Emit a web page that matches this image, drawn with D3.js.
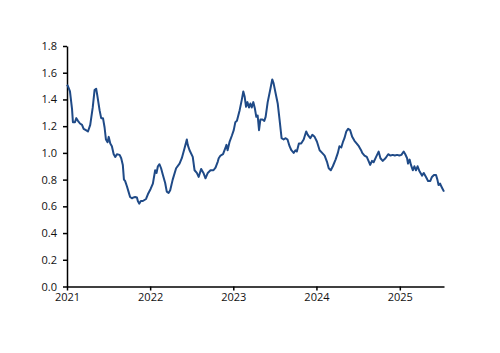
<!DOCTYPE html>
<html>
<head>
<meta charset="utf-8">
<script src="https://cdn.jsdelivr.net/npm/d3@7"></script>
<style>
  body { margin: 0; background: #fff; }
  text { font-family: "Open Sans", sans-serif; }
</style>
</head>
<body>
<div id="chart"></div>
<script>
// data
const dates = [
  "2021-01-01","2021-01-05","2021-01-14","2021-01-23","2021-01-27","2021-02-05","2021-02-11","2021-02-18","2021-02-27","2021-03-08",
  "2021-03-15","2021-03-25","2021-04-03","2021-04-13","2021-04-24","2021-05-02","2021-05-09","2021-05-14","2021-05-24","2021-05-31",
  "2021-06-08","2021-06-15","2021-06-21","2021-06-28","2021-07-03","2021-07-10","2021-07-17","2021-07-25","2021-08-01","2021-08-08",
  "2021-08-20","2021-08-27","2021-09-03","2021-09-08","2021-09-13","2021-09-21","2021-09-28","2021-10-05","2021-10-13","2021-10-20",
  "2021-10-27","2021-11-04","2021-11-08","2021-11-14","2021-11-21","2021-11-30","2021-12-14","2021-12-22","2022-01-03","2022-01-13",
  "2022-01-23","2022-01-29","2022-02-04","2022-02-11","2022-02-18","2022-02-26","2022-03-08","2022-03-15","2022-03-23","2022-03-30",
  "2022-04-10","2022-04-25","2022-05-10","2022-05-20","2022-06-01","2022-06-11","2022-06-15","2022-06-23","2022-07-07","2022-07-15",
  "2022-07-25","2022-08-02","2022-08-13","2022-08-23","2022-09-01","2022-09-11","2022-09-23","2022-10-06","2022-10-15","2022-10-25",
  "2022-10-29","2022-11-06","2022-11-17","2022-11-27","2022-12-02","2022-12-07","2022-12-16","2022-12-26","2023-01-03","2023-01-10",
  "2023-01-17","2023-01-29","2023-02-07","2023-02-14","2023-02-20","2023-02-26","2023-03-04","2023-03-11","2023-03-17","2023-03-23",
  "2023-03-30","2023-04-06","2023-04-12","2023-04-18","2023-04-24","2023-04-30","2023-05-09","2023-05-17","2023-05-23","2023-06-01",
  "2023-06-13","2023-06-21","2023-06-27","2023-07-06","2023-07-15","2023-07-23","2023-08-01","2023-08-10","2023-08-19","2023-08-27",
  "2023-09-05","2023-09-13","2023-09-23","2023-10-01","2023-10-07","2023-10-16","2023-10-26","2023-11-06","2023-11-17","2023-11-24",
  "2023-12-05","2023-12-14","2023-12-24","2024-01-03","2024-01-15","2024-01-26","2024-02-06","2024-02-16","2024-02-24","2024-03-04",
  "2024-03-13","2024-03-25","2024-04-04","2024-04-11","2024-04-19","2024-04-26","2024-05-03","2024-05-11","2024-05-19","2024-05-28",
  "2024-06-06","2024-06-16","2024-06-26","2024-07-05","2024-07-15","2024-07-20","2024-07-30","2024-08-09","2024-08-18","2024-08-24",
  "2024-09-01","2024-09-08","2024-09-19","2024-09-30","2024-10-08","2024-10-18","2024-10-30","2024-11-11","2024-11-21","2024-12-01",
  "2024-12-10","2024-12-20","2024-12-30","2025-01-08","2025-01-18","2025-01-25","2025-02-02","2025-02-06","2025-02-13","2025-02-19",
  "2025-02-27","2025-03-06","2025-03-13","2025-03-20","2025-03-29","2025-04-09","2025-04-16","2025-04-26","2025-05-05","2025-05-15",
  "2025-05-22","2025-05-31","2025-06-09","2025-06-15","2025-06-20","2025-06-27","2025-07-02","2025-07-08","2025-07-14"
];
const values = [
  1.51,1.50,1.46,1.33,1.23,1.23,1.26,1.24,1.22,1.21,
  1.18,1.17,1.16,1.21,1.34,1.47,1.48,1.43,1.32,1.26,
  1.26,1.19,1.10,1.08,1.12,1.07,1.05,0.99,0.97,0.99,
  0.985,0.96,0.91,0.80,0.79,0.75,0.71,0.67,0.66,0.667,
  0.67,0.667,0.64,0.62,0.64,0.64,0.655,0.69,0.73,0.77,
  0.87,0.85,0.90,0.915,0.885,0.835,0.775,0.71,0.70,0.72,
  0.80,0.885,0.92,0.96,1.035,1.10,1.06,1.02,0.97,0.87,
  0.85,0.82,0.88,0.85,0.81,0.85,0.87,0.87,0.89,0.935,
  0.96,0.98,0.99,1.035,1.06,1.02,1.085,1.13,1.17,1.23,
  1.24,1.32,1.395,1.46,1.42,1.345,1.38,1.34,1.37,1.34,
  1.38,1.33,1.27,1.28,1.17,1.25,1.25,1.24,1.27,1.38,
  1.48,1.55,1.52,1.445,1.37,1.25,1.11,1.10,1.11,1.10,
  1.05,1.02,1.00,1.02,1.01,1.07,1.07,1.10,1.16,1.135,
  1.11,1.135,1.12,1.085,1.02,1.00,0.98,0.935,0.885,0.87,
  0.90,0.95,1.00,1.05,1.04,1.08,1.11,1.16,1.18,1.17,
  1.12,1.09,1.07,1.05,1.02,1.00,0.98,0.97,0.935,0.91,
  0.94,0.93,0.97,1.01,0.96,0.94,0.96,0.99,0.98,0.985,
  0.98,0.985,0.98,0.985,1.01,0.99,0.96,0.92,0.95,0.91,
  0.87,0.90,0.87,0.90,0.86,0.83,0.85,0.82,0.79,0.79,
  0.82,0.835,0.835,0.80,0.76,0.77,0.75,0.73,0.71
];
const yTicks = [0, 0.2, 0.4, 0.6, 0.8, 1.0, 1.2, 1.4, 1.6, 1.8];
const xTicks = ["2021-01-01", "2022-01-01", "2023-01-01", "2024-01-01", "2025-01-01"];

const width = 500, height = 353;
const margin = { left: 67, right: 56, top: 46, bottom: 66 };
const parse = d3.timeParse("%Y-%m-%d");

const data = dates.map((d, i) => ({ date: parse(d), value: values[i] }));

const svg = d3.select("#chart").append("svg")
  .attr("width", width)
  .attr("height", height);

const x = d3.scaleTime()
  .domain([parse("2021-01-01"), parse("2025-07-14")])
  .range([margin.left, width - margin.right]);
const y = d3.scaleLinear()
  .domain([0, 1.8])
  .range([height - margin.bottom - 0.5, margin.top]);

const xAxis = svg.append("g")
  .attr("transform", `translate(0,${height - margin.bottom - 0.5})`)
  .call(d3.axisBottom(x).tickValues(xTicks.map(parse)).tickFormat(d3.timeFormat("%Y")).tickSize(4).tickPadding(3).tickSizeOuter(0));

const yAxis = svg.append("g")
  .attr("transform", `translate(${margin.left},0)`)
  .call(d3.axisLeft(y).tickValues(yTicks).tickFormat(d3.format(".1f")).tickSize(4).tickPadding(6).tickSizeOuter(0));

[xAxis, yAxis].forEach(g => {
  g.selectAll("path, line").attr("stroke", "#000").attr("stroke-width", 1.5);
  g.selectAll("text").attr("fill", "#111").style("font-size", "11px");
});

svg.append("path")
  .datum(data)
  .attr("fill", "none")
  .attr("stroke", "#1f4a87")
  .attr("stroke-width", 2)
  .attr("stroke-linejoin", "round")
  .attr("d", d3.line().x(d => x(d.date)).y(d => y(d.value)));
</script>
</body>
</html>
